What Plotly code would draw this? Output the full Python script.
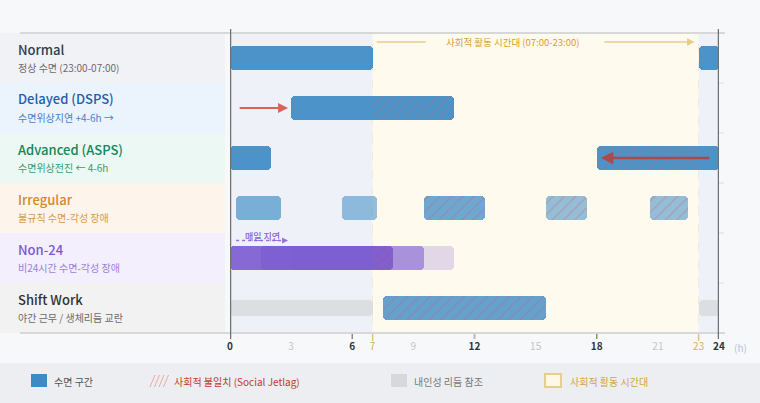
import plotly.graph_objects as go

# ---------------- data ----------------
rows = ["Normal", "Delayed (DSPS)", "Advanced (ASPS)", "Irregular", "Non-24", "Shift Work"]
subtitles = ["정상 수면 (23:00-07:00)", "수면위상지연 +4-6h →", "수면위상전진 ← 4-6h",
             "불규칙 수면-각성 장애", "비24시간 수면-각성 장애", "야간 근무 / 생체리듬 교란"]

normal_sleep = [(0, 7), (23, 24)]
delayed_sleep = [(3, 11)]
advanced_sleep = [(0, 2), (18, 24)]
irregular_sleep = [(0.3, 2.5), (5.5, 7.2), (9.5, 12.5), (15.5, 17.5), (20.6, 22.5)]
non24_sleep = [(0, 8), (1.5, 9.5), (3, 11)]
shift_sleep = [(7.5, 15.5)]
shift_reference = [(0, 7), (23, 24)]

# social jetlag (sleep inside social activity window)
delayed_jetlag = [(7, 11)]
advanced_jetlag = [(18, 23)]
irregular_jetlag = [(9.5, 12.5), (15.5, 17.5), (20.6, 22.5)]
non24_jetlag = [(7, 8)]
shift_jetlag = [(7.5, 15.5)]

social_start, social_end = 7, 23
tick_vals = [0, 3, 6, 7, 9, 12, 15, 18, 21, 23, 24]

# ---------------- style ----------------
FONT = "Noto Sans CJK KR, Noto Sans, sans-serif"
BLUE = "#3d8bc4"
PURPLE = "rgb(122,90,207)"
title_colors = ["#2c3e50", "#1f5fae", "#15865a", "#d4892a", "#7a58d8", "#333333"]
sub_colors = ["#6b6b6b", "#4a80cf", "#3a9b6f", "#d79a4c", "#9b7fe2", "#6b6b6b"]
panel_colors = ["#f1f2f5", "#ebf3fc", "#ecf8f3", "#fdf5eb", "#f3effc", "#f2f2f3"]

ypos = {name: 5 - i for i, name in enumerate(rows)}
BW = 0.47

fig = go.Figure()


def add_bars(segs, row, color, opacity=0.92, width=BW, name=""):
    fig.add_trace(go.Bar(
        y=[ypos[row]] * len(segs), x=[e - s for s, e in segs], base=[s for s, e in segs],
        orientation="h", width=width, marker=dict(color=color, line=dict(width=0), cornerradius=4),
        opacity=opacity, showlegend=False, hoverinfo="skip", name=name))


def add_hatch(segs, row, width=BW):
    fig.add_trace(go.Bar(
        y=[ypos[row]] * len(segs), x=[e - s for s, e in segs], base=[s for s, e in segs],
        orientation="h", width=width,
        marker=dict(color="rgba(0,0,0,0)", line=dict(width=0), cornerradius=4,
                    pattern=dict(shape="/", fgcolor="rgba(215,85,95,0.75)", size=8,
                                 solidity=0.14, fillmode="overlay")),
        showlegend=False, hoverinfo="skip"))


add_bars(shift_reference, "Shift Work", "#dcdfe2", opacity=1, width=0.32)
add_bars(normal_sleep, "Normal", BLUE)
add_bars(delayed_sleep, "Delayed (DSPS)", BLUE)
add_bars(advanced_sleep, "Advanced (ASPS)", BLUE)
irr_op = [0.66, 0.55, 0.75, 0.55, 0.55]
for seg, op in zip(irregular_sleep, irr_op):
    add_bars([seg], "Irregular", BLUE, opacity=op)
for seg, op in zip(non24_sleep, [0.9, 0.55, 0.22]):
    add_bars([seg], "Non-24", PURPLE, opacity=op)
add_bars(shift_sleep, "Shift Work", BLUE, opacity=0.8)

add_hatch(delayed_jetlag, "Delayed (DSPS)")
add_hatch(advanced_jetlag, "Advanced (ASPS)")
add_hatch(irregular_jetlag, "Irregular")
add_hatch(non24_jetlag, "Non-24")
add_hatch(shift_jetlag, "Shift Work")

# ---------------- geometry helpers (layout only) ----------------
L, R, T, B = 230, 41, 33, 70
W, H = 760, 403
PW, PH = W - L - R, H - T - B


def px(x):
    return (x - L) / PW


def py(y):
    return (H - B - y) / PH


shapes = []
# plot backgrounds
shapes.append(dict(type="rect", xref="x", yref="y", x0=0, x1=social_start, y0=-0.5, y1=5.5,
                   fillcolor="#eef2f8", line_width=0, layer="below"))
shapes.append(dict(type="rect", xref="x", yref="y", x0=social_start, x1=social_end, y0=-0.5, y1=5.5,
                   fillcolor="#fffaee", line_width=0, layer="below"))
shapes.append(dict(type="rect", xref="x", yref="y", x0=social_end, x1=24, y0=-0.5, y1=5.5,
                   fillcolor="#eef2f8", line_width=0, layer="below"))
# row separators
for k in range(1, 6):
    shapes.append(dict(type="line", xref="paper", yref="y", x0=0, x1=px(724), y0=k - 0.5, y1=k - 0.5,
                       line=dict(color="#ebebeb", width=2), layer="below"))
# left label panel
for i in range(6):
    shapes.append(dict(type="rect", xref="paper", yref="paper", x0=px(0), x1=px(225),
                       y0=1 - (i + 1) / 6, y1=1 - i / 6, fillcolor=panel_colors[i], line_width=0,
                       layer="below"))
# vertical guide lines
for v in [3, 9, 15, 21]:
    shapes.append(dict(type="line", xref="x", yref="paper", x0=v, x1=v, y0=0, y1=1,
                       line=dict(color="#d3d3d3", width=1, dash="dot"), layer="below"))
for v, c, w in [(6, "#8a8a8a", 1.5), (12, "#b8b8b8", 2), (18, "#8a8a8a", 1.5)]:
    shapes.append(dict(type="line", xref="x", yref="paper", x0=v, x1=v, y0=py(339), y1=1,
                       line=dict(color=c, width=w), layer="below"))
for v in [social_start, social_end]:
    shapes.append(dict(type="line", xref="x", yref="paper", x0=v, x1=v, y0=py(341), y1=1,
                       line=dict(color="#e2c37a", width=1.5, dash="dash"), layer="below"))
# top & bottom borders
for yy in [33, 333]:
    shapes.append(dict(type="line", xref="paper", yref="paper", x0=px(20), x1=px(725), y0=py(yy), y1=py(yy),
                       line=dict(color="#d8d8d8", width=2)))
for v in [0, 24]:
    shapes.append(dict(type="line", xref="x", yref="paper", x0=v, x1=v, y0=py(339), y1=py(29),
                       line=dict(color="#707070", width=2.5)))
# social window arrows
ya = 5.32
shapes.append(dict(type="line", xref="x", yref="y", x0=7.2, x1=9.6, y0=ya, y1=ya,
                   line=dict(color="#e6cd8c", width=1.5)))
# non-24 dotted
shapes.append(dict(type="line", xref="x", yref="y", x0=0.3, x1=2.7, y0=1.35, y1=1.35,
                   line=dict(color="#9a6fe0", width=1.5, dash="dot")))

# legend
shapes.append(dict(type="rect", xref="paper", yref="paper", x0=px(0), x1=px(760), y0=py(403), y1=py(363),
                   fillcolor="#eceef1", line_width=0, layer="below"))
shapes.append(dict(type="rect", xref="paper", yref="paper", x0=px(31), x1=px(47), y0=py(387), y1=py(374),
                   fillcolor=BLUE, line_width=0))
for k in range(4):
    x0 = 150 + k * 4.5
    shapes.append(dict(type="line", xref="paper", yref="paper", x0=px(x0), x1=px(x0 + 5), y0=py(387), y1=py(375),
                       line=dict(color="#f2a6a6", width=1)))
shapes.append(dict(type="rect", xref="paper", yref="paper", x0=px(391), x1=px(407), y0=py(387), y1=py(374),
                   fillcolor="#d6d9dc", line_width=0))
shapes.append(dict(type="rect", xref="paper", yref="paper", x0=px(545), x1=px(561), y0=py(387), y1=py(374),
                   fillcolor="#fff8e6", line=dict(color="#e6cf8e", width=2)))

annotations = []
for i, (t, s) in enumerate(zip(rows, subtitles)):
    c = 1 - (i + 0.5) / 6
    annotations.append(dict(xref="paper", yref="paper", x=px(16), y=c + 9 / PH, text=t, showarrow=False,
                            xanchor="left", yanchor="middle",
                            font=dict(family=FONT, size=13, color=title_colors[i], weight=500)))
    annotations.append(dict(xref="paper", yref="paper", x=px(16), y=c - 9 / PH, text=s, showarrow=False,
                            xanchor="left", yanchor="middle",
                            font=dict(family=FONT, size=10, color=sub_colors[i])))

annotations.append(dict(xref="x", yref="y", x=13.9, y=ya, text="사회적 활동 시간대 (07:00-23:00)",
                        showarrow=False, font=dict(family=FONT, size=9.5, color="#d4a22e")))
annotations.append(dict(xref="x", yref="y", x=22.8, y=ya, ax=18.3, ay=ya, axref="x", ayref="y", text="",
                        showarrow=True, arrowhead=2, arrowsize=1, arrowwidth=1.5, arrowcolor="#e6cd8c"))
annotations.append(dict(xref="x", yref="y", x=9.45, y=ya, ax=9.6, ay=ya, axref="x", ayref="y", text="",
                        showarrow=True, arrowhead=2, arrowsize=1, arrowwidth=1.5, arrowcolor="#e6cd8c"))
annotations.append(dict(xref="x", yref="y", x=2.85, y=ypos["Delayed (DSPS)"], ax=0.4, ay=ypos["Delayed (DSPS)"],
                        axref="x", ayref="y", text="", showarrow=True, arrowhead=2, arrowsize=1,
                        arrowwidth=2, arrowcolor="#d9625a"))
annotations.append(dict(xref="x", yref="y", x=18.2, y=ypos["Advanced (ASPS)"], ax=23.6, ay=ypos["Advanced (ASPS)"],
                        axref="x", ayref="y", text="", showarrow=True, arrowhead=2, arrowsize=1,
                        arrowwidth=2.5, arrowcolor="rgba(190,60,55,0.85)"))
annotations.append(dict(xref="x", yref="y", x=1.6, y=1.43, text="매일 지연", showarrow=False,
                        font=dict(family=FONT, size=9, color="#8a5cd6", weight=500)))
annotations.append(dict(xref="x", yref="y", x=2.85, y=1.35, ax=2.6, ay=1.35, axref="x", ayref="y", text="",
                        showarrow=True, arrowhead=2, arrowsize=1, arrowwidth=1.2, arrowcolor="#9a6fe0"))
annotations.append(dict(xref="paper", yref="paper", x=px(732), y=py(347), text="(h)", showarrow=False,
                        xanchor="left", yanchor="middle",
                        font=dict(family=FONT, size=10, color="#b8c2d4")))
# legend texts
for xx, txt, col in [(52, "수면 구간", "#555555"), (172, "사회적 불일치 (Social Jetlag)", "#c0392b"),
                     (412, "내인성 리듬 참조", "#777777"), (568, "사회적 활동 시간대", "#d4a53a")]:
    annotations.append(dict(xref="paper", yref="paper", x=px(xx), y=py(381), text=txt, showarrow=False,
                            xanchor="left", yanchor="middle", font=dict(family=FONT, size=10, color=col)))


def tick_label(v):
    if v in (social_start, social_end):
        return f'<span style="color:#e0b04a">{v}</span>'
    if v % 6 == 0:
        return f'<b><span style="color:#2c3440">{v}</span></b>'
    return f'<span style="color:#c4c4c4">{v}</span>'


fig.update_layout(
    width=W, height=H, margin=dict(l=L, r=R, t=T, b=B),
    paper_bgcolor="#f7f8fa", plot_bgcolor="rgba(0,0,0,0)",
    barmode="overlay", bargap=0,
    font=dict(family=FONT),
    xaxis=dict(range=[0, 24], tickvals=tick_vals, ticktext=[tick_label(v) for v in tick_vals],
               showgrid=False, zeroline=False, showline=False, ticks="", tickfont=dict(size=10),
               ticklabelstandoff=6, fixedrange=True),
    yaxis=dict(range=[-0.5, 5.5], showticklabels=False, showgrid=False, zeroline=False, showline=False,
               fixedrange=True),
    shapes=shapes, annotations=annotations, showlegend=False,
)

fig.write_html("out.html", config={"displayModeBar": False},
               post_script="document.body.style.margin='0';")
